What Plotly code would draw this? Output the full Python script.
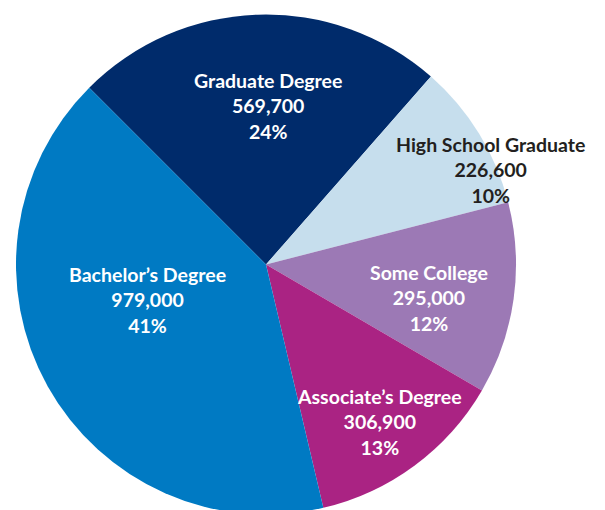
import plotly.graph_objects as go

# education levels, clockwise from upper left
categories = ["Graduate Degree", "High School Graduate", "Some College",
              "Associate\u2019s Degree", "Bachelor\u2019s Degree"]
counts = [569700, 226600, 295000, 306900, 979000]
percents = ["24%", "10%", "12%", "13%", "41%"]

colors = ["#002b6b", "#c6deed", "#9c79b5", "#aa2383", "#007ac3"]
text_colors = ["white", "#231f20", "white", "white", "white"]
# label centres in pixels (x, y from top) of the page
label_pos = [(268, 106), (490, 170), (429, 298), (379, 422), (147, 300)]

W, H = 605, 510
OFF = 8  # page body margin

fig = go.Figure()
fig.add_trace(go.Pie(
    labels=categories,
    values=counts,
    sort=False,
    direction="clockwise",
    rotation=-45,
    marker=dict(colors=colors, line=dict(width=0)),
    textinfo="none",
    hoverinfo="label+value+percent",
    domain=dict(x=[(16 - OFF) / W, (516 - OFF) / W], y=[0, 1 - (11 - OFF) / H]),
    showlegend=False,
))

for cat, n, pct, col, (px, py) in zip(categories, counts, percents, text_colors, label_pos):
    fig.add_annotation(
        x=(px - OFF) / W, y=1 - (py - OFF) / H, xref="paper", yref="paper",
        text=f"<b>{cat}</b><br><b>{n:,}</b><br><b>{pct}</b>",
        showarrow=False, xanchor="center", yanchor="middle", align="center",
        font=dict(family="Lato", size=19.5, color=col),
    )

fig.update_layout(
    width=W, height=H,
    margin=dict(l=0, r=0, t=0, b=0),
    paper_bgcolor="white",
    plot_bgcolor="white",
)

fig.write_html("out.html")
